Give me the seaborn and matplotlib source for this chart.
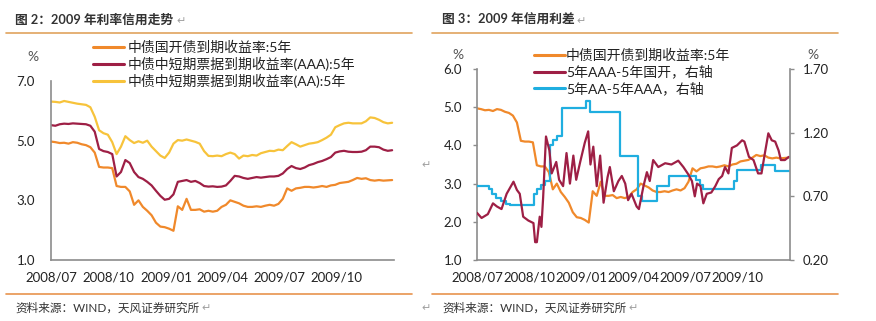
import matplotlib
matplotlib.use("Agg")
import matplotlib.pyplot as plt
from matplotlib.lines import Line2D
from matplotlib.ticker import FormatStrFormatter
import pandas as pd
import seaborn as sns

# ---------------- data ----------------
# weekly observations, 2008-07-01 .. 2009-12-29
week_dates = pd.date_range("2008-07-01", periods=79, freq="7D")

cdb_5y = [4.97, 4.95, 4.92, 4.93, 4.90, 4.95, 4.93, 4.88, 4.85, 4.78,
          4.60, 4.12, 4.10, 4.10, 4.08, 3.48, 3.45, 3.45, 3.30, 2.85,
          3.00, 2.78, 2.65, 2.50, 2.25, 2.12, 2.10, 2.05, 1.98, 2.80,
          2.68, 3.05, 2.68, 2.68, 2.70, 2.62, 2.65, 2.62, 2.65, 2.78,
          2.85, 3.00, 2.95, 2.90, 2.82, 2.78, 2.78, 2.80, 2.78, 2.82,
          2.85, 2.82, 2.88, 3.05, 3.40, 3.32, 3.40, 3.42, 3.45, 3.45,
          3.43, 3.45, 3.48, 3.45, 3.50, 3.52, 3.58, 3.60, 3.62, 3.68,
          3.75, 3.72, 3.74, 3.68, 3.66, 3.68, 3.66, 3.67, 3.68]

mtn_aaa_5y = [5.52, 5.50, 5.55, 5.57, 5.56, 5.58, 5.57, 5.56, 5.55, 5.50,
              5.30, 4.72, 4.65, 4.62, 4.55, 3.80, 3.95, 4.35, 4.25, 3.95,
              3.78, 3.72, 3.62, 3.50, 3.32, 3.15, 3.02, 3.05, 3.20, 3.62,
              3.65, 3.68, 3.62, 3.65, 3.58, 3.48, 3.46, 3.47, 3.45, 3.46,
              3.50, 3.65, 3.82, 3.80, 3.75, 3.72, 3.75, 3.78, 3.76, 3.78,
              3.80, 3.80, 3.82, 3.90, 4.05, 4.15, 4.08, 4.05, 4.10, 4.18,
              4.22, 4.28, 4.32, 4.38, 4.45, 4.60, 4.64, 4.66, 4.63, 4.62,
              4.62, 4.63, 4.68, 4.80, 4.80, 4.78, 4.70, 4.66, 4.68]

mtn_aa_5y = [6.31, 6.30, 6.28, 6.33, 6.30, 6.27, 6.24, 6.22, 6.20, 6.12,
             5.80, 5.35, 5.25, 5.20, 4.95, 4.55, 4.80, 5.15, 5.02, 4.92,
             4.98, 4.93, 5.00, 4.80, 4.65, 4.50, 4.42, 4.60, 4.90, 5.02,
             5.00, 5.04, 5.00, 4.96, 4.90, 4.65, 4.49, 4.48, 4.50, 4.48,
             4.55, 4.60, 4.55, 4.40, 4.50, 4.48, 4.52, 4.50, 4.58, 4.62,
             4.66, 4.65, 4.70, 4.68, 4.82, 4.95, 4.88, 4.80, 4.85, 4.90,
             4.92, 4.95, 5.02, 5.10, 5.20, 5.45, 5.52, 5.58, 5.60, 5.58,
             5.58, 5.58, 5.65, 5.78, 5.76, 5.70, 5.62, 5.58, 5.60]

# 5Y AAA minus 5Y CDB spread
spread_aaa_dates = [
    "2008-07-01", "2008-07-09", "2008-07-20", "2008-07-29", "2008-08-05",
    "2008-08-13", "2008-08-22", "2008-09-03", "2008-09-09", "2008-09-14",
    "2008-09-20", "2008-09-29", "2008-10-08", "2008-10-11", "2008-10-14",
    "2008-10-19", "2008-10-22", "2008-10-25", "2008-10-30", "2008-11-05",
    "2008-11-09", "2008-11-17", "2008-11-22", "2008-11-29", "2008-12-05",
    "2008-12-11", "2008-12-17", "2008-12-22", "2008-12-29", "2009-01-06",
    "2009-01-12", "2009-01-16", "2009-01-21", "2009-01-27", "2009-02-02",
    "2009-02-08", "2009-02-15", "2009-02-19", "2009-02-26", "2009-03-06",
    "2009-03-12", "2009-03-18", "2009-03-23", "2009-03-29", "2009-04-07",
    "2009-04-11", "2009-04-19", "2009-04-25", "2009-04-30", "2009-05-06",
    "2009-05-15", "2009-05-27", "2009-06-07", "2009-06-19", "2009-06-28",
    "2009-07-07", "2009-07-13", "2009-07-18", "2009-07-22", "2009-07-28",
    "2009-08-02", "2009-08-08", "2009-08-16", "2009-08-23", "2009-08-29",
    "2009-09-04", "2009-09-09", "2009-09-15", "2009-09-21", "2009-09-30",
    "2009-10-09", "2009-10-13", "2009-10-21", "2009-10-29", "2009-11-06",
    "2009-11-12", "2009-11-18", "2009-11-24", "2009-11-30", "2009-12-06",
    "2009-12-12", "2009-12-16", "2009-12-23", "2009-12-30"]
spread_aaa = [
    0.57, 0.53, 0.56, 0.645, 0.62, 0.60, 0.72, 0.815, 0.75, 0.72,
    0.54, 0.51, 0.49, 0.34, 0.34, 0.54, 0.46, 0.69, 1.17, 1.06,
    0.88, 0.97, 0.83, 0.78, 1.04, 0.80, 1.02, 0.83, 0.97, 1.12,
    1.21, 0.95, 1.09, 0.78, 1.02, 0.65, 0.85, 0.93, 0.74, 0.82,
    0.86, 0.80, 0.67, 0.72, 0.62, 0.60, 0.78, 0.89, 0.82, 0.985,
    0.93, 0.96, 0.95, 0.98, 0.93, 0.87, 0.82, 0.70, 0.80, 0.78,
    0.645, 0.72, 0.73, 0.78, 0.835, 0.86, 0.93, 0.88, 1.08, 1.10,
    1.14, 1.13, 1.01, 0.985, 0.88, 0.88, 1.04, 1.195, 1.14, 1.13,
    1.06, 0.985, 0.985, 1.01]

# 5Y AA minus 5Y AAA spread (stepwise)
spread_aa_dates = [
    "2008-07-01", "2008-07-22", "2008-07-28", "2008-08-04", "2008-08-12",
    "2008-08-20", "2008-08-28", "2008-10-09", "2008-10-14", "2008-10-22",
    "2008-10-29", "2008-11-06", "2008-11-12", "2008-11-19", "2008-11-27",
    "2009-01-09", "2009-01-15", "2009-03-08", "2009-04-10", "2009-04-16",
    "2009-05-12", "2009-06-02", "2009-07-21", "2009-07-27", "2009-08-02",
    "2009-09-24", "2009-09-30", "2009-11-12", "2009-12-06", "2009-12-31"]
spread_aa = [
    0.78, 0.76, 0.72, 0.69, 0.66, 0.64, 0.63, 0.72, 0.76, 0.79,
    0.82, 1.10, 1.14, 1.17, 1.39, 1.45, 1.36, 1.02, 0.70, 0.66,
    0.78, 0.86, 0.83, 0.79, 0.76, 0.82, 0.91, 0.95, 0.90, 0.90]

left_labels = ["中债国开债到期收益率:5年",
               "中债中短期票据到期收益率(AAA):5年",
               "中债中短期票据到期收益率(AA):5年"]
right_labels = ["中债国开债到期收益率:5年",
                "5年AAA-5年国开，右轴",
                "5年AA-5年AAA，右轴"]
x_ticks = ["2008-07-01", "2008-10-01", "2009-01-01", "2009-04-01",
           "2009-07-01", "2009-10-01", "2010-01-01"]
x_ticklabels = ["2008/07", "2008/10", "2009/01", "2009/04", "2009/07",
                "2009/10", ""]

# ---------------- style ----------------
sns.set_style("white")
plt.rcParams["font.family"] = ["Lato", "Noto Sans CJK SC", "DejaVu Sans"]
plt.rcParams["axes.unicode_minus"] = False

C_ORANGE = "#F0892B"
C_RED = "#9E1F45"
C_YELLOW = "#F7C33B"
C_BLUE = "#1FAEE0"
C_RULE_TOP = "#E0A35E"
C_RULE_BOT = "#E8934E"
C_AXIS = "#8C8C8C"
C_TEXT = "#222222"
LW = 1.6

W, H = 876, 321
fig = plt.figure(figsize=(W / 100, H / 100), dpi=100)


def fx(px):
    return px / W


def fy(py):
    return 1 - py / H


def style_axis(ax, ylabels_side="left"):
    for s in ["top", "right", "left", "bottom"]:
        ax.spines[s].set_visible(False)
    ax.spines[ylabels_side].set_visible(True)
    ax.spines["bottom"].set_visible(True)
    for s in ax.spines.values():
        s.set_color(C_AXIS)
        s.set_linewidth(1.2)
    ax.tick_params(axis="both", which="both", direction="out", length=3,
                   width=1, color=C_AXIS, labelsize=9.5, labelcolor=C_TEXT)
    ax.set_xlabel("")
    ax.set_ylabel("")
    ax.grid(False)


def date_axis(ax):
    ax.set_xlim(pd.Timestamp("2008-07-01"), pd.Timestamp("2010-01-01"))
    ax.set_xticks(pd.to_datetime(x_ticks))
    ax.set_xticklabels(x_ticklabels)
    ax.tick_params(axis="x", pad=5.5)


# ---------------- left chart ----------------
axL = fig.add_axes([fx(51), fy(260), fx(394 - 51), (260 - 81) / H])
dfL = pd.DataFrame({"date": week_dates, "cdb": cdb_5y,
                    "aaa": mtn_aaa_5y, "aa": mtn_aa_5y})
sns.lineplot(data=dfL, x="date", y="cdb", ax=axL, color=C_ORANGE, lw=LW)
sns.lineplot(data=dfL, x="date", y="aaa", ax=axL, color=C_RED, lw=LW)
sns.lineplot(data=dfL, x="date", y="aa", ax=axL, color=C_YELLOW, lw=LW)
axL.set_ylim(1.0, 7.0)
axL.set_yticks([1.0, 3.0, 5.0, 7.0])
axL.yaxis.set_major_formatter(FormatStrFormatter("%.1f"))
style_axis(axL, "left")
date_axis(axL)
axL.tick_params(axis="y", pad=8.5)

handlesL = [Line2D([], [], color=c, lw=2.2) for c in (C_ORANGE, C_RED, C_YELLOW)]
axL.legend(handlesL, left_labels, loc="upper left",
           bbox_to_anchor=(fx(93), fy(41)), bbox_transform=fig.transFigure,
           frameon=False, fontsize=10, handlelength=2.2, handletextpad=0.3,
           labelspacing=0.18, borderpad=0, borderaxespad=0,
           labelcolor=C_TEXT)
fig.text(fx(33), fy(57), "%", ha="center", va="center", fontsize=10,
         color="#555555")

# ---------------- right chart ----------------
axR = fig.add_axes([fx(477), fy(260), fx(790 - 477), (260 - 69) / H])
axR2 = axR.twinx()
dfA = pd.DataFrame({"date": pd.to_datetime(spread_aaa_dates),
                    "spread": spread_aaa})
dfB = pd.DataFrame({"date": pd.to_datetime(spread_aa_dates),
                    "spread": spread_aa})
sns.lineplot(data=dfL, x="date", y="cdb", ax=axR, color=C_ORANGE, lw=LW)
sns.lineplot(data=dfB, x="date", y="spread", ax=axR2, color=C_BLUE, lw=LW,
             drawstyle="steps-post")
sns.lineplot(data=dfA, x="date", y="spread", ax=axR2, color=C_RED, lw=LW)
axR.set_ylim(1.0, 6.0)
axR.set_yticks([1.0, 2.0, 3.0, 4.0, 5.0, 6.0])
axR.yaxis.set_major_formatter(FormatStrFormatter("%.1f"))
axR2.set_ylim(0.20, 1.70)
axR2.set_yticks([0.20, 0.70, 1.20, 1.70])
axR2.yaxis.set_major_formatter(FormatStrFormatter("%.2f"))
style_axis(axR, "left")
style_axis(axR2, "right")
axR2.spines["bottom"].set_visible(False)
date_axis(axR)
axR2.set_xlim(axR.get_xlim())
axR.tick_params(axis="y", pad=7.8)
axR2.tick_params(axis="y", pad=6.3)

handlesR = [Line2D([], [], color=c, lw=2.2) for c in (C_ORANGE, C_RED, C_BLUE)]
axR2.legend(handlesR, right_labels, loc="upper left",
            bbox_to_anchor=(fx(534), fy(49)), bbox_transform=fig.transFigure,
            frameon=False, fontsize=10, handlelength=2.2, handletextpad=0.1,
            labelspacing=0.18, borderpad=0, borderaxespad=0,
            labelcolor=C_TEXT)
fig.text(fx(458), fy(55), "%", ha="center", va="center", fontsize=10,
         color="#555555")
fig.text(fx(813), fy(55), "%", ha="center", va="center", fontsize=10,
         color="#555555")

# ---------------- titles, rules, sources ----------------
for x0, x1 in [(6, 412), (432, 838)]:
    fig.add_artist(Line2D([fx(x0), fx(x1)], [fy(33), fy(33)],
                          color=C_RULE_TOP, lw=1.2, transform=fig.transFigure))
    fig.add_artist(Line2D([fx(x0), fx(x1)], [fy(294), fy(294)],
                          color=C_RULE_BOT, lw=1.2, transform=fig.transFigure))

mark_kw = dict(fontsize=8, color="#A0A0A0", va="center",
               family=["DejaVu Sans"])
fig.text(fx(15), fy(20), "图 2：2009 年利率信用走势", fontsize=9.2,
         fontweight="bold", color="#333333", va="center")
fig.text(fx(442), fy(20), "图 3：2009 年信用利差", fontsize=9.2,
         fontweight="bold", color="#333333", va="center")
fig.text(fx(176), fy(21), "↵", **mark_kw)
fig.text(fx(576), fy(21), "↵", **mark_kw)

fig.text(fx(15), fy(308), "资料来源：WIND，天风证券研究所", fontsize=8.4,
         color="#333333", va="center")
fig.text(fx(442), fy(308), "资料来源：WIND，天风证券研究所", fontsize=8.4,
         color="#333333", va="center")
fig.text(fx(201), fy(308), "↵", **mark_kw)
fig.text(fx(628), fy(308), "↵", **mark_kw)
fig.text(fx(421), fy(308), "↵", **mark_kw)
fig.text(fx(421), fy(165), "↵", **mark_kw)

fig.savefig("out.png", dpi=100)
